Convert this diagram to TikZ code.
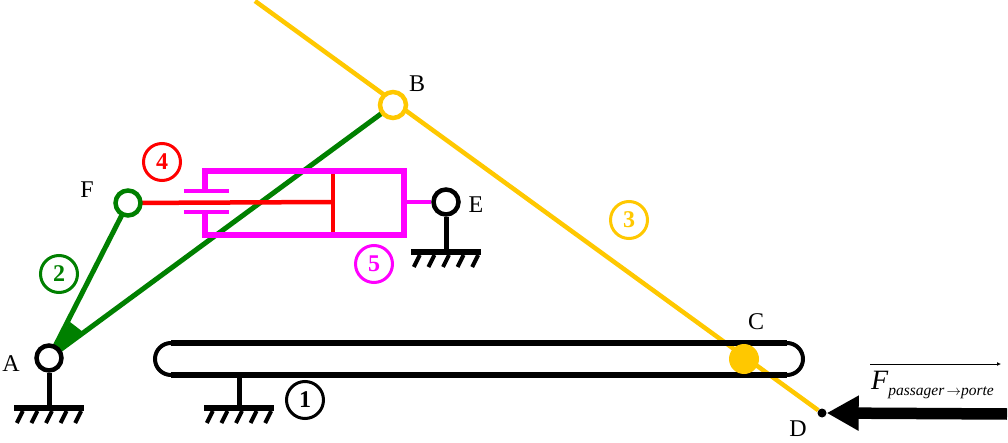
\documentclass[tikz,border=0pt]{standalone}
\usepackage{fontspec}
\setmainfont{Liberation Serif}
\usetikzlibrary{arrows.meta}
\definecolor{vert}{RGB}{0,128,0}
\definecolor{jaune}{RGB}{255,200,0}
\definecolor{rose}{RGB}{255,0,255}
\definecolor{rouge}{RGB}{255,0,0}
\newcommand{\bati}[3]{% stem from node #1 down to bar at (x=#2,y=#3)
\coordinate (bar#1) at (#2,#3);
\draw [mech] (#1) -- (bar#1);
\draw [line width=5.5pt] (#2-35,#3) -- (#2+35,#3);
\foreach \i in {-2,...,2} \draw [hatch] (#2+\i*14.6+3,#3+3) -- (#2+\i*14.6-3,#3+15);
}
\begin{document}
\begin{tikzpicture}[x=1pt,y=-1pt,
mech/.style={line width=5pt},
hatch/.style={line width=4pt},
joint/.style={circle,draw,line width=4.5pt,fill=white,minimum size=24pt,inner sep=0pt},
repere/.style={circle,draw,line width=3pt,minimum size=37pt,inner sep=0pt,font=\fontsize{24}{24}\selectfont\bfseries},
letter/.style={inner sep=0pt,font=\fontsize{24}{24}\selectfont}]
\useasboundingbox (0,0) rectangle (1008,443);

\coordinate (top) at (255,1);
\node [circle,fill=black,minimum size=9pt,inner sep=0pt] (D) at (822,413) {};
\draw [jaune,line width=4.5pt] (top) -- (D);

% bras 2
\coordinate (A) at (49,358);
\coordinate (B) at (393,105);
\coordinate (F) at (128,203);
\draw [vert,line width=5pt] (A) -- (B);
\draw [vert,line width=5pt] (A) -- (F);
\fill [vert] (A) -- (70,322) -- (83,332) -- cycle;

% verin
\coordinate (rodend) at (333,202);
\coordinate (pistona) at (333,171);
\coordinate (pistonb) at (333,235);
\draw [rouge,line width=4.5pt] (F) -- (rodend);
\draw [rouge,line width=4.5pt] (pistona) -- (pistonb);
\draw [rose,line width=5.5pt] (205,190) -- (205,171) -- (404,171) -- (404,235) -- (205,235) -- (205,213);
\draw [rose,line width=4.5pt] (184,191) -- (229,191);
\draw [rose,line width=4.5pt] (184,212) -- (229,212);

% glissiere
\coordinate (Sa) at (171,343);
\coordinate (Sb) at (787,343);
\coordinate (Sc) at (787,375);
\coordinate (Sd) at (171,375);
\draw [line width=5.5pt] (Sa) -- (Sb);
\draw [line width=5.5pt] (Sd) -- (Sc);
\draw [line width=4pt] (Sa) arc[start angle=90,end angle=270,radius=16pt];
\draw [line width=4pt] (Sb) arc[start angle=-90,end angle=-270,radius=-16pt];
\node [circle,fill=jaune,minimum size=30pt,inner sep=0pt] (C) at (744,359) {};

% liaisons
\node [joint,draw=black,minimum size=25pt] (nA) at (A) {};
\node [joint,draw=jaune,minimum size=26pt] (nB) at (B) {};
\node [joint,draw=vert,minimum size=25pt] (nF) at (F) {};
\node [joint,draw=black,minimum size=25pt] (E) at (446,202) {};
\draw [rose,line width=4pt] (404,202) -- (E);

% batis
\bati{nA}{49}{408}
\coordinate (S1) at (239,375);
\bati{S1}{239}{408}
\bati{E}{446}{252}

% reperes
\node [repere] (n1) at (305,400) {1};
\node [repere,vert] (n2) at (59,274) {2};
\node [repere,jaune] (n3) at (629,220) {3};
\node [repere,rouge] (n4) at (162,162) {4};
\node [repere,rose] (n5) at (374,264) {5};

\node [letter] (lA) at (11,364) {A};
\node [letter] (lB) at (417,84) {B};
\node [letter] (lC) at (756,322) {C};
\node [letter] (lD) at (798,429) {D};
\node [letter] (lE) at (476,205) {E};
\node [letter] (lF) at (87,190) {F};

% effort
\coordinate (Fend) at (1007,414);
\draw [line width=11.5pt,-{Triangle[length=32pt,width=33pt]}] (Fend) -- (D.east);
\node [inner sep=0pt,anchor=base west] (force) at (871,389) {\fontsize{28}{28}\selectfont\itshape F\raisebox{-6pt}{\fontsize{15.5}{15.5}\selectfont passager$\,\rightarrow$porte}};
\coordinate (va) at (870,364);
\coordinate (vb) at (1001,364);
\draw [line width=.8pt,-{Latex[length=4pt,width=4pt]}] (va) -- (vb);
\end{tikzpicture}
\end{document}
